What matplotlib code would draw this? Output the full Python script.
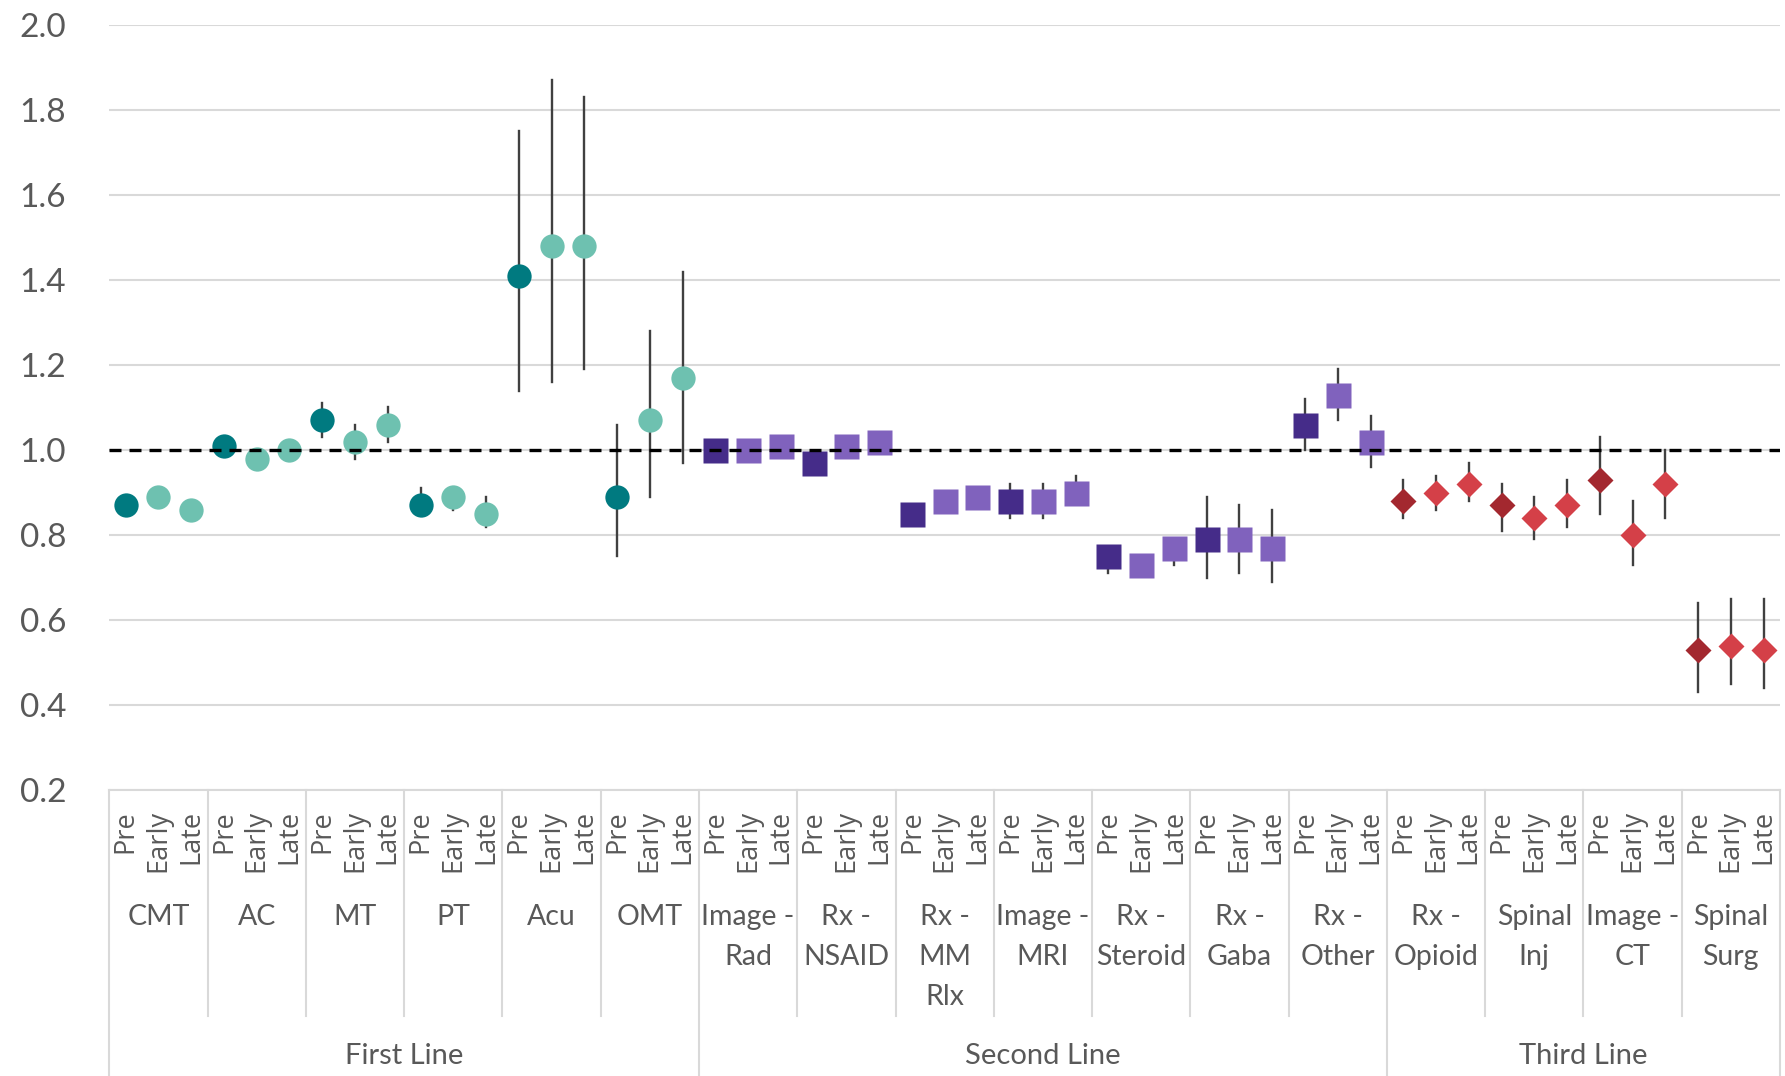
import numpy as np
import matplotlib.pyplot as plt

#----------------------------------
# Datos
#----------------------------------

groups = ["CMT", "AC", "MT", "PT", "Acu", "OMT",
          "Image -\nRad", "Rx -\nNSAID", "Rx -\nMM\nRlx", "Image -\nMRI",
          "Rx -\nSteroid", "Rx -\nGaba", "Rx -\nOther",
          "Rx -\nOpioid", "Spinal\nInj", "Image -\nCT", "Spinal\nSurg"]
lines = ["First Line", "Second Line", "Third Line"]
line_sizes = [6, 7, 4]
phases = ["Pre", "Early", "Late"]

est = [
    [0.87, 0.89, 0.86], [1.01, 0.98, 1.00], [1.07, 1.02, 1.06],
    [0.87, 0.89, 0.85], [1.41, 1.48, 1.48], [0.89, 1.07, 1.17],
    [1.00, 1.00, 1.01], [0.97, 1.01, 1.02], [0.85, 0.88, 0.89],
    [0.88, 0.88, 0.90], [0.75, 0.73, 0.77], [0.79, 0.79, 0.77],
    [1.06, 1.13, 1.02],
    [0.88, 0.90, 0.92], [0.87, 0.84, 0.87], [0.93, 0.80, 0.92],
    [0.53, 0.54, 0.53],
]
lo = [
    [0.86, 0.88, 0.85], [0.99, 0.96, 0.98], [1.03, 0.98, 1.02],
    [0.85, 0.86, 0.82], [1.14, 1.16, 1.19], [0.75, 0.89, 0.97],
    [0.99, 0.99, 1.00], [0.96, 1.00, 1.00], [0.84, 0.87, 0.87],
    [0.84, 0.84, 0.88], [0.71, 0.72, 0.73], [0.70, 0.71, 0.69],
    [1.00, 1.07, 0.96],
    [0.84, 0.86, 0.88], [0.81, 0.79, 0.82], [0.85, 0.73, 0.84],
    [0.43, 0.45, 0.44],
]
hi = [
    [0.88, 0.90, 0.87], [1.02, 0.99, 1.01], [1.11, 1.06, 1.10],
    [0.91, 0.90, 0.89], [1.75, 1.87, 1.83], [1.06, 1.28, 1.42],
    [1.01, 1.01, 1.02], [0.98, 1.02, 1.03], [0.86, 0.89, 0.90],
    [0.92, 0.92, 0.94], [0.76, 0.74, 0.78], [0.89, 0.87, 0.86],
    [1.12, 1.19, 1.08],
    [0.93, 0.94, 0.97], [0.92, 0.89, 0.93], [1.03, 0.88, 1.00],
    [0.64, 0.65, 0.65],
]

#----------------------------------
# Estilo
#----------------------------------

markers = ["o", "s", "D"]
msizes = [17.5, 18, 12.8]
dark = ["#007A80", "#452C89", "#A3282F"]
light = ["#6EC1B0", "#8062BD", "#D44048"]
txt = "#595959"
grid_c = "#D9D9D9"
err_c = "#404040"

W, H = 1785, 1076
ax_l, ax_r, ax_t, ax_b = 109.3, 1780, 25, 790

fig = plt.figure(figsize=(W / 100, H / 100), dpi=100)
ax = fig.add_axes([ax_l / W, (H - ax_b) / H, (ax_r - ax_l) / W, (ax_b - ax_t) / H])


def yf(py):
    # pixel y (desde arriba) -> fraccion de ejes
    return (ax_b - py) / (ax_b - ax_t)


n = len(groups) * 3
x = np.arange(n)

# linea de cada grupo
line_of = []
for i, s in enumerate(line_sizes):
    line_of += [i] * s

#----------------------------------
# Puntos
#----------------------------------

for g in range(len(groups)):
    li = line_of[g]
    for p in range(3):
        xi = x[g * 3 + p]
        e, l, h = est[g][p], lo[g][p], hi[g][p]
        c = dark[li] if p == 0 else light[li]
        ax.plot([xi, xi], [l, h], color=err_c, lw=1.7, zorder=3)
        ax.plot(xi, e, marker=markers[li], ms=msizes[li], color=c,
                mec="none", ls="none", zorder=4)

ax.axhline(1.0, color="black", lw=2.4, ls=(0, (3.6, 2.4)), zorder=5)

#----------------------------------
# Ejes
#----------------------------------

ax.set_xlim(-0.5, n - 0.5)
ax.set_ylim(0.2, 2.0)
ax.set_yticks(np.arange(0.2, 2.01, 0.2))
ax.set_yticklabels([f"{v:.1f}" for v in np.arange(0.2, 2.01, 0.2)],
                   fontfamily="Lato", fontsize=24, color=txt)
ax.tick_params(axis="y", length=0, pad=31)
ax.set_xticks([])
ax.grid(axis="y", color=grid_c, lw=1.5, zorder=0)
for s in ["top", "right", "left"]:
    ax.spines[s].set_visible(False)
ax.spines["bottom"].set_color(grid_c)
ax.spines["bottom"].set_linewidth(1.5)

#----------------------------------
# Tabla de categorias
#----------------------------------

tr = ax.get_xaxis_transform()

for i in range(n):
    ax.text(x[i], yf(810), phases[i % 3], rotation=90, ha="center", va="top",
            fontfamily="Open Sans", fontsize=19.5, color=txt, transform=tr)

for g, name in enumerate(groups):
    xc = g * 3 + 1
    for k, part in enumerate(name.split("\n")):
        ax.text(xc, yf(917 + 40 * k), part, ha="center", va="center",
                fontfamily="Lato", fontsize=20.5, color=txt, transform=tr)

# separadores de grupo
starts = np.cumsum([0] + line_sizes)
for g in range(len(groups) + 1):
    xs = g * 3 - 0.5
    bottom = H if g in starts else 1016
    ax.plot([xs, xs], [yf(ax_b), yf(bottom)], color=grid_c, lw=1.5,
            transform=tr, clip_on=False)

for i, name in enumerate(lines):
    xc = (starts[i] + starts[i + 1]) * 3 / 2 - 0.5
    ax.text(xc, yf(1056), name, ha="center", va="center",
            fontfamily="Lato", fontsize=21, color=txt, transform=tr)

fig.savefig("out.png", dpi=100)
